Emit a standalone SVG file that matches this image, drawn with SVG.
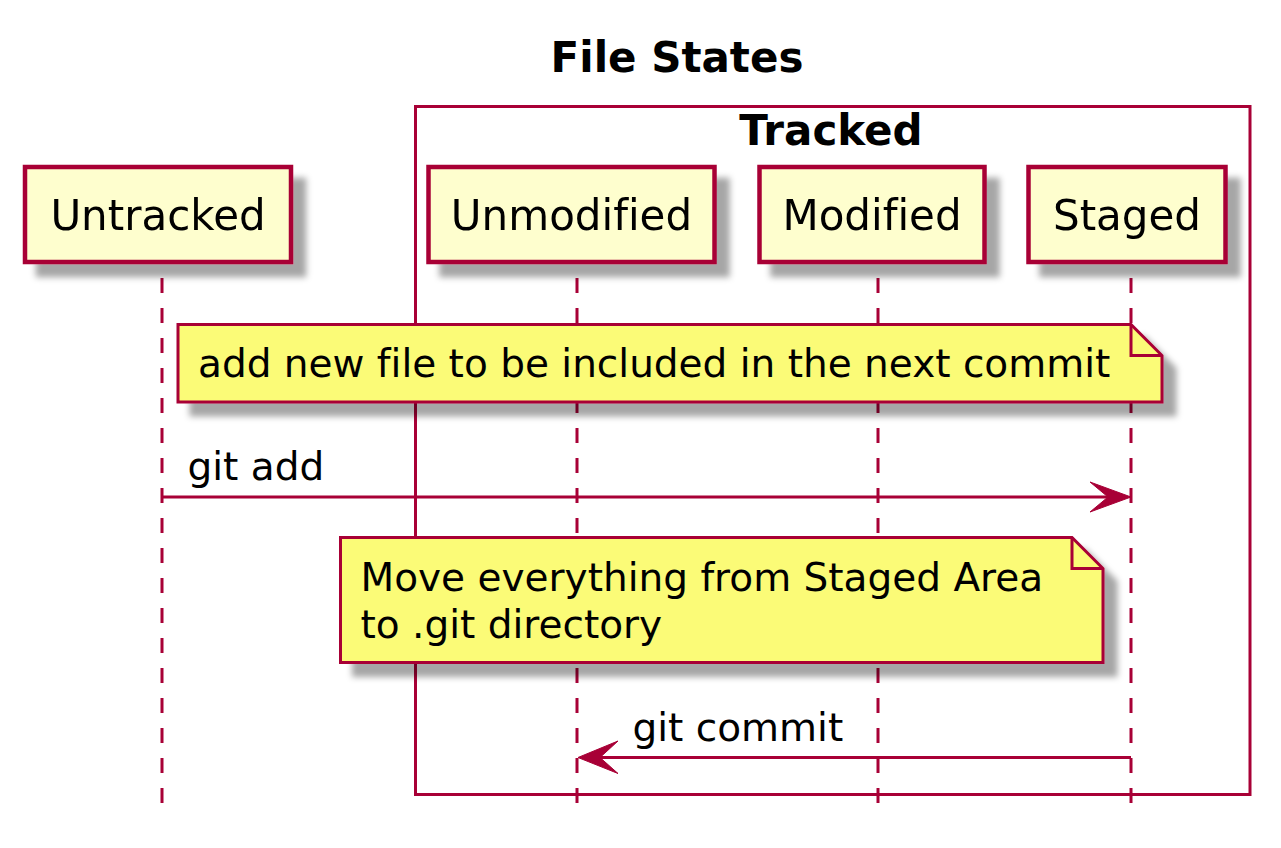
<svg xmlns="http://www.w3.org/2000/svg" width="1281" height="848" viewBox="0 0 1281 848">
  <defs>
    <filter id="shadow" x="-10%" y="-20%" width="130%" height="150%">
      <feDropShadow dx="13" dy="13" stdDeviation="3" flood-color="#000000" flood-opacity="0.35"/>
    </filter>
  </defs>
  <style>
    text { font-family: "DejaVu Sans", "Liberation Sans", sans-serif; fill: #000000; font-variant-ligatures: none; font-feature-settings: "liga" 0, "clig" 0; }
    .title { font-size: 42px; font-weight: bold; }
    .boxtitle { font-size: 42px; font-weight: bold; }
    .ptext { font-size: 42px; }
    .ntext { font-size: 39px; }
    .mtext { font-size: 39px; }
    .participant { fill: #FEFECE; stroke: #A80036; stroke-width: 4.5; }
    .note { fill: #FBFB77; stroke: #A80036; stroke-width: 3; }
    .fold { fill: none; stroke: #A80036; stroke-width: 3; }
    .lifeline { stroke: #A80036; stroke-width: 3; stroke-dasharray: 15 15; fill: none; }
    .box { fill: none; stroke: #A80036; stroke-width: 3; }
    .msg { stroke: #A80036; stroke-width: 3; fill: none; }
    .head { fill: #A80036; stroke: #A80036; stroke-width: 1; }
  </style>
  <rect width="1281" height="848" fill="#FFFFFF"/>

  <text class="title" x="677" y="72" text-anchor="middle">File States</text>

  <g id="box-tracked">
    <rect class="box" x="415.5" y="106.5" width="834.5" height="688"/>
    <text class="boxtitle" x="831" y="145" text-anchor="middle">Tracked</text>
  </g>

  <g id="lifelines">
    <line class="lifeline" x1="162" y1="278" x2="162" y2="814"/>
    <line class="lifeline" x1="577" y1="278" x2="577" y2="814"/>
    <line class="lifeline" x1="878" y1="278" x2="878" y2="814"/>
    <line class="lifeline" x1="1131" y1="278" x2="1131" y2="814"/>
  </g>

  <g id="untracked" filter="url(#shadow)">
    <rect class="participant" x="25" y="167" width="266" height="95"/>
    <text class="ptext" x="158" y="230" text-anchor="middle">Untracked</text>
  </g>
  <g id="unmodified" filter="url(#shadow)">
    <rect class="participant" x="428.5" y="167" width="286" height="95"/>
    <text class="ptext" x="571.5" y="230" text-anchor="middle">Unmodified</text>
  </g>
  <g id="modified" filter="url(#shadow)">
    <rect class="participant" x="759.5" y="167" width="225" height="95"/>
    <text class="ptext" x="872" y="230" text-anchor="middle">Modified</text>
  </g>
  <g id="staged" filter="url(#shadow)">
    <rect class="participant" x="1028.5" y="167" width="197" height="95"/>
    <text class="ptext" x="1127" y="230" text-anchor="middle">Staged</text>
  </g>

  <g id="note1">
    <path class="note" filter="url(#shadow)" d="M178,324.5 L1131,324.5 L1162,355.5 L1162,402 L178,402 Z"/>
    <path class="fold" d="M1131,324.5 L1131,355.5 L1162,355.5"/>
    <text class="ntext" x="198" y="377">add new file to be included in the next commit</text>
  </g>

  <g id="note2">
    <path class="note" filter="url(#shadow)" d="M340.5,537.5 L1072,537.5 L1103,568.5 L1103,662.5 L340.5,662.5 Z"/>
    <path class="fold" d="M1072,537.5 L1072,568.5 L1103,568.5"/>
    <text class="ntext" x="360.5" y="591">Move everything from Staged Area</text>
    <text class="ntext" x="360.5" y="637.5">to .git directory</text>
  </g>

  <g id="connectors">
    <g id="msg-git-add">
      <line class="msg" x1="162" y1="497" x2="1120" y2="497"/>
      <polygon class="head" points="1090,482 1131,497 1090,512 1108,497"/>
      <text class="mtext" x="187.5" y="480">git add</text>
    </g>
    <g id="msg-git-commit">
      <line class="msg" x1="1131" y1="757.5" x2="590" y2="757.5"/>
      <polygon class="head" points="618,741 578,757.5 618,773.5 600,757.5"/>
      <text class="mtext" x="632.5" y="741">git commit</text>
    </g>
  </g>
</svg>
